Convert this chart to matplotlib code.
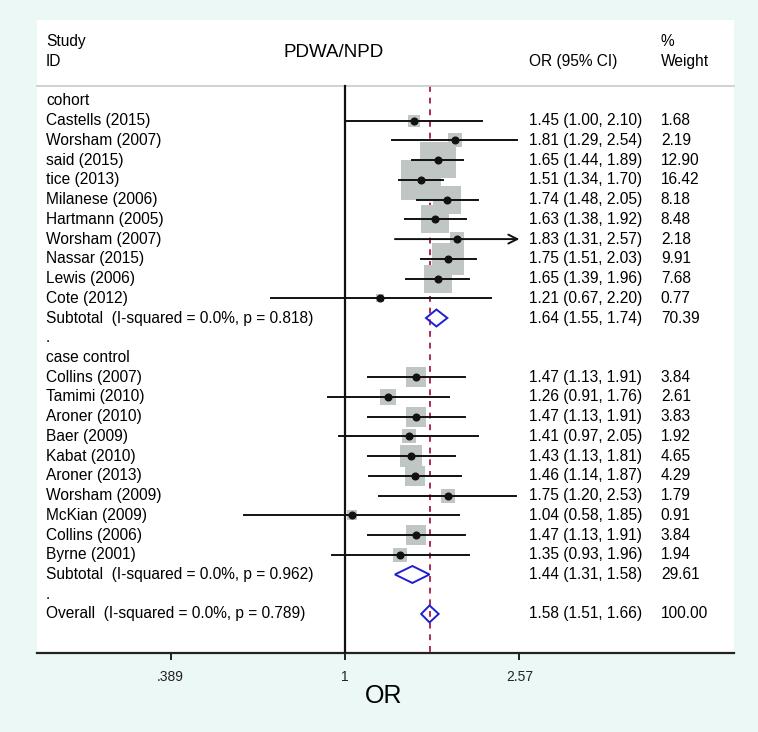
import numpy as np
import matplotlib
matplotlib.use('Agg')
import matplotlib.pyplot as plt
import matplotlib.transforms as mtransforms
from matplotlib.patches import Polygon

plt.rcParams['font.family'] = ['Liberation Sans', 'DejaVu Sans']

# cohort studies
cohort_names = ['Castells (2015)', 'Worsham (2007)', 'said (2015)', 'tice (2013)', 'Milanese (2006)',
                'Hartmann (2005)', 'Worsham (2007)', 'Nassar (2015)', 'Lewis (2006)', 'Cote (2012)']
cohort_or = [1.45, 1.81, 1.65, 1.51, 1.74, 1.63, 1.83, 1.75, 1.65, 1.21]
cohort_lo = [1.00, 1.29, 1.44, 1.34, 1.48, 1.38, 1.31, 1.51, 1.39, 0.67]
cohort_hi = [2.10, 2.54, 1.89, 1.70, 2.05, 1.92, 2.57, 2.03, 1.96, 2.20]
cohort_w = [1.68, 2.19, 12.90, 16.42, 8.18, 8.48, 2.18, 9.91, 7.68, 0.77]
cohort_sub = [1.64, 1.55, 1.74, 70.39]
cohort_sub_label = 'Subtotal  (I-squared = 0.0%, p = 0.818)'

# case control studies
case_names = ['Collins (2007)', 'Tamimi (2010)', 'Aroner (2010)', 'Baer (2009)', 'Kabat (2010)',
              'Aroner (2013)', 'Worsham (2009)', 'McKian (2009)', 'Collins (2006)', 'Byrne (2001)']
case_or = [1.47, 1.26, 1.47, 1.41, 1.43, 1.46, 1.75, 1.04, 1.47, 1.35]
case_lo = [1.13, 0.91, 1.13, 0.97, 1.13, 1.14, 1.20, 0.58, 1.13, 0.93]
case_hi = [1.91, 1.76, 1.91, 2.05, 1.81, 1.87, 2.53, 1.85, 1.91, 1.96]
case_w = [3.84, 2.61, 3.83, 1.92, 4.65, 4.29, 1.79, 0.91, 3.84, 1.94]
case_sub = [1.44, 1.31, 1.58, 29.61]
case_sub_label = 'Subtotal  (I-squared = 0.0%, p = 0.962)'

overall = [1.58, 1.51, 1.66, 100.00]
overall_label = 'Overall  (I-squared = 0.0%, p = 0.789)'

tick_vals = [0.389, 1, 2.57]
tick_labels = ['.389', '1', '2.57']

bg = '#ecf8f5'
fs = 11.2

fig = plt.figure(figsize=(7.58, 7.32), dpi=100, facecolor=bg)
ax = fig.add_axes([37 / 758, 1 - 653 / 732, 697 / 758, 633 / 732])
ax.set_facecolor('white')
ax.set_xscale('log')
ax.set_xlim(np.exp(-1.668), np.exp(2.106))
ax.set_ylim(27.98, -4.105)
for s in ['top', 'left', 'right']:
    ax.spines[s].set_visible(False)
ax.spines['bottom'].set_linewidth(1.6)
ax.spines['bottom'].set_color('#222222')
ax.set_yticks([])
ax.set_xticks(tick_vals)
ax.set_xticklabels(tick_labels)
ax.xaxis.set_minor_locator(matplotlib.ticker.NullLocator())
ax.tick_params(axis='x', length=5, width=1.4, pad=7, labelsize=10, colors='#222222')

tr = mtransforms.blended_transform_factory(ax.transAxes, ax.transData)
x_lab, x_or, x_w = 0.0129, 0.706, 0.895
header_y = -0.76

# header
ax.text(x_lab, -2.99, 'Study', transform=tr, fontsize=fs, va='center', ha='left')
ax.text(x_lab, -1.98, 'ID', transform=tr, fontsize=fs, va='center', ha='left')
ax.text(0.426, -2.48, 'PDWA/NPD', transform=tr, fontsize=13.5, va='center', ha='center')
ax.text(x_or, -1.98, 'OR (95% CI)', transform=tr, fontsize=fs, va='center', ha='left')
ax.text(x_w, -2.99, '%', transform=tr, fontsize=fs, va='center', ha='left')
ax.text(x_w, -1.98, 'Weight', transform=tr, fontsize=fs, va='center', ha='left')
ax.plot([0, 1], [header_y, header_y], transform=tr, color='#c5cccb', lw=1.2, clip_on=False)

# reference lines
ax.plot([1, 1], [header_y, 27.98], color='#111111', lw=1.6, zorder=3)
ax.plot([overall[0], overall[0]], [header_y, 27.98], color='#ab2c5c', lw=1.4,
        dashes=(3, 3), zorder=1)

px_per_sqrtw = 9.9


def study_row(r, name, o, l, h, w):
    ax.text(x_lab, r, name, transform=tr, fontsize=fs, va='center', ha='left')
    ax.text(x_or, r, '%.2f (%.2f, %.2f)' % (o, l, h), transform=tr, fontsize=fs, va='center')
    ax.text(x_w, r, '%.2f' % w, transform=tr, fontsize=fs, va='center')
    side = px_per_sqrtw * np.sqrt(w) * 0.72
    ax.scatter([o], [r], s=side ** 2, marker='s', color='#bfc6c4', linewidths=0, zorder=2)
    if h >= tick_vals[-1]:
        ax.annotate('', xy=(h, r), xytext=(l, r),
                    arrowprops=dict(arrowstyle='->', lw=1.4, color='#111111',
                                    mutation_scale=16, shrinkA=0, shrinkB=0), zorder=4)
    else:
        ax.plot([l, h], [r, r], color='#111111', lw=1.4, zorder=4)
    ax.plot([o], [r], 'o', color='#111111', ms=4.8, zorder=5)


def pooled_row(r, label, vals):
    o, l, h, w = vals
    ax.text(x_lab, r, label, transform=tr, fontsize=fs, va='center', ha='left')
    ax.text(x_or, r, '%.2f (%.2f, %.2f)' % (o, l, h), transform=tr, fontsize=fs, va='center')
    ax.text(x_w, r, '%.2f' % w, transform=tr, fontsize=fs, va='center')
    d = 0.43
    ax.add_patch(Polygon([(l, r), (o, r - d), (h, r), (o, r + d)], closed=True,
                         fill=False, edgecolor='#1f1fd0', lw=1.4, zorder=5))


ax.text(x_lab, 0, 'cohort', transform=tr, fontsize=fs, va='center')
for i in range(len(cohort_names)):
    study_row(1 + i, cohort_names[i], cohort_or[i], cohort_lo[i], cohort_hi[i], cohort_w[i])
pooled_row(11, cohort_sub_label, cohort_sub)
ax.text(x_lab, 12, '.', transform=tr, fontsize=fs, va='center')

ax.text(x_lab, 13, 'case control', transform=tr, fontsize=fs, va='center')
for i in range(len(case_names)):
    study_row(14 + i, case_names[i], case_or[i], case_lo[i], case_hi[i], case_w[i])
pooled_row(24, case_sub_label, case_sub)
ax.text(x_lab, 25, '.', transform=tr, fontsize=fs, va='center')

pooled_row(26, overall_label, overall)

fig.text(384 / 758, 1 - 696 / 732, 'OR', fontsize=18, ha='center', va='center')

plt.savefig('out.png', dpi=100, facecolor=bg)
